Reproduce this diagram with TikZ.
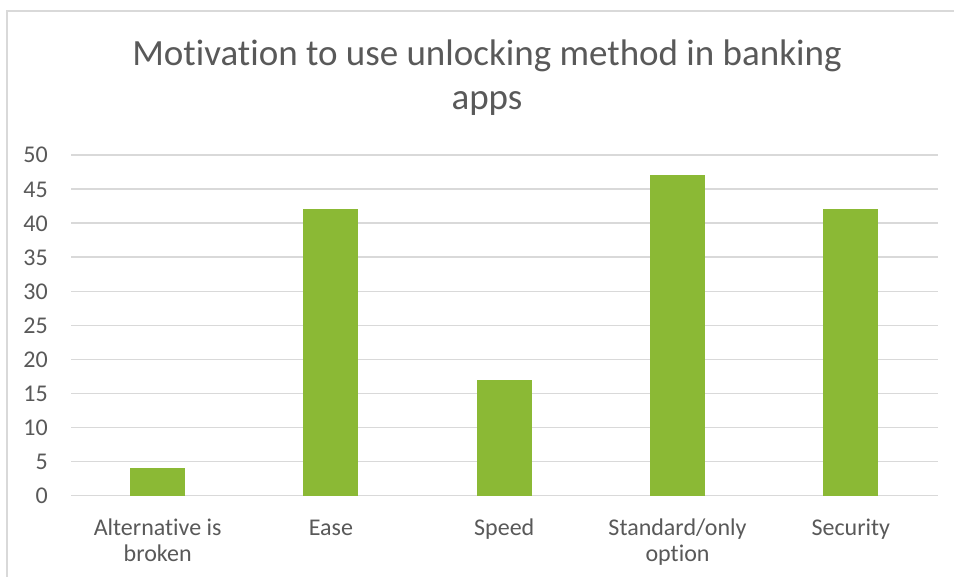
\documentclass[tikz,border=0pt]{standalone}
\usepackage{fontspec}
\setmainfont[Ligatures={NoCommon}]{Carlito}
\definecolor{gridc}{HTML}{D9D9D9}
\definecolor{barc}{RGB}{139,185,53}
\definecolor{txtc}{HTML}{595959}
\begin{document}
\begin{tikzpicture}[x=1pt,y=-1pt,
  gridline/.style={draw=gridc,line width=1.3pt},
  ylab/.style={anchor=base east,inner sep=0pt,text=txtc,font=\fontsize{24}{25}\selectfont},
  xlab/.style={anchor=base,inner sep=0pt,text=txtc,align=center,font=\fontsize{24}{26.2}\selectfont},
  bar/.style={fill=barc},
  titlestyle/.style={anchor=base,inner sep=0pt,text=txtc,align=center,font=\fontsize{37}{44.3}\selectfont}]
\useasboundingbox (0,0) rectangle (954,577);
\fill[white] (0,0) rectangle (954,577);
\draw[gridline] (7,580) -- (7,11) -- (960,11);
\node[titlestyle] (title) at (487,110) {Motivation to use unlocking method in banking\\apps};
\foreach \v in {0,5,...,50}{
  \draw[gridline] (71,{495.5-6.81*\v}) -- (937.5,{495.5-6.81*\v});
  \node[ylab] (y\v) at (48,{495.5-6.81*\v+8}) {\v};
}
\foreach \i/\val/\lab/\by in {1/4/{Alternative is\\broken}/561.7,2/42/Ease/535.5,3/17/Speed/535.5,4/47/{Standard/only\\option}/561.7,5/42/Security/535.5}{
  \fill[bar] ({71+173.3*(\i-0.5)-27.5},495.5) rectangle ({71+173.3*(\i-0.5)+27.5},{495.5-6.81*\val});
  \node[xlab] (c\i) at ({71+173.3*(\i-0.5)},\by) {\lab};
}
\end{tikzpicture}
\end{document}
